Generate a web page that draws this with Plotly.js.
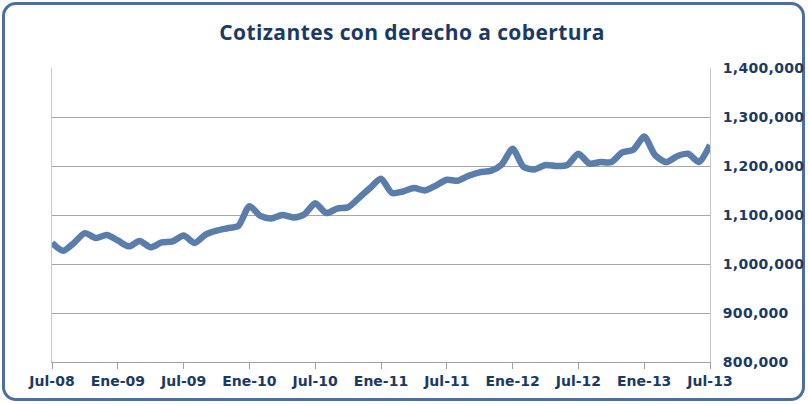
<!DOCTYPE html>
<html>
<head>
<meta charset="utf-8">
<script src="https://cdn.plot.ly/plotly-3.0.1.min.js"></script>
<style>
  html, body { margin: 0; padding: 0; background: #ffffff; }
  #wrap { position: relative; width: 808px; height: 404px; overflow: hidden; }
  #frame { position: absolute; left: 2px; top: 2px; width: 803px; height: 399px;
           box-sizing: border-box; border: 3px solid #4A6FA0; border-radius: 14px; }
  #chart { position: absolute; left: 0; top: 0; width: 808px; height: 404px; }
  #chart .ytick text { letter-spacing: 0.3px; }
  #chart .gtitle { letter-spacing: 0.4px; }
</style>
</head>
<body>
<div id="wrap">
  <div id="frame"></div>
  <div id="chart"></div>
</div>
<script>
// Monthly series Jul-08 .. Jul-13
const months = [
  "Jul-08","Ago-08","Sep-08","Oct-08","Nov-08","Dic-08",
  "Ene-09","Feb-09","Mar-09","Abr-09","May-09","Jun-09",
  "Jul-09","Ago-09","Sep-09","Oct-09","Nov-09","Dic-09",
  "Ene-10","Feb-10","Mar-10","Abr-10","May-10","Jun-10",
  "Jul-10","Ago-10","Sep-10","Oct-10","Nov-10","Dic-10",
  "Ene-11","Feb-11","Mar-11","Abr-11","May-11","Jun-11",
  "Jul-11","Ago-11","Sep-11","Oct-11","Nov-11","Dic-11",
  "Ene-12","Feb-12","Mar-12","Abr-12","May-12","Jun-12",
  "Jul-12","Ago-12","Sep-12","Oct-12","Nov-12","Dic-12",
  "Ene-13","Feb-13","Mar-13","Abr-13","May-13","Jun-13",
  "Jul-13"
];
const cotizantes = [
  1043000,1027000,1043000,1063000,1053000,1059000,
  1048000,1036000,1047000,1034000,1044000,1046000,
  1058000,1043000,1060000,1068000,1073000,1078000,
  1118000,1098000,1093000,1100000,1095000,1101000,
  1124000,1104000,1113000,1116000,1135000,1155000,
  1174000,1145000,1148000,1155000,1150000,1160000,
  1172000,1170000,1180000,1187000,1190000,1203000,
  1235000,1198000,1193000,1202000,1200000,1202000,
  1225000,1205000,1208000,1208000,1228000,1233000,
  1260000,1222000,1208000,1220000,1225000,1208000,
  1243000
];
const tickLabels = ["Jul-08","Ene-09","Jul-09","Ene-10","Jul-10","Ene-11","Jul-11","Ene-12","Jul-12","Ene-13","Jul-13"];
const yTicks = [800000,900000,1000000,1100000,1200000,1300000,1400000];
const titleText = "Cotizantes con derecho a cobertura";

const xIdx = months.map((m, i) => i);
const tickIdx = tickLabels.map(t => months.indexOf(t));

const navy = "#1B3A63";

const trace = {
  x: xIdx,
  y: cotizantes,
  type: "scatter",
  mode: "lines",
  line: { color: "#5B7DAA", width: 6.5, shape: "spline", smoothing: 0.7 },
  hoverinfo: "skip"
};

const layout = {
  width: 808,
  height: 404,
  paper_bgcolor: "rgba(0,0,0,0)",
  plot_bgcolor: "rgba(0,0,0,0)",
  showlegend: false,
  margin: { l: 52, r: 98, t: 68, b: 42 },
  title: {
    text: titleText,
    font: { family: "Open Sans", size: 21, color: navy, weight: 700 },
    x: 0.51, xanchor: "center",
    y: 0.918, yanchor: "middle"
  },
  xaxis: {
    range: [0, 60],
    tickmode: "array",
    tickvals: tickIdx,
    ticktext: tickLabels,
    ticks: "outside",
    ticklen: 6,
    tickcolor: "#A0A0A0",
    tickfont: { family: "DejaVu Sans", size: 14, color: navy, weight: 700 },
    showgrid: false,
    zeroline: false,
    showline: true,
    linecolor: "#A0A0A0",
    linewidth: 1
  },
  yaxis: {
    side: "right",
    range: [800000, 1400000],
    tickmode: "array",
    tickvals: yTicks,
    ticktext: yTicks.map(v => v.toLocaleString("en-US")),
    ticks: "",
    ticklabelstandoff: 9,
    tickfont: { family: "DejaVu Sans", size: 14, color: navy, weight: 700 },
    showgrid: true,
    gridcolor: "#A6A6A6",
    gridwidth: 1,
    zeroline: false,
    showline: true,
    linecolor: "#C8C8C8",
    linewidth: 1,
    mirror: true
  }
};

Plotly.newPlot("chart", [trace], layout, { staticPlot: true, displayModeBar: false });
</script>
</body>
</html>
